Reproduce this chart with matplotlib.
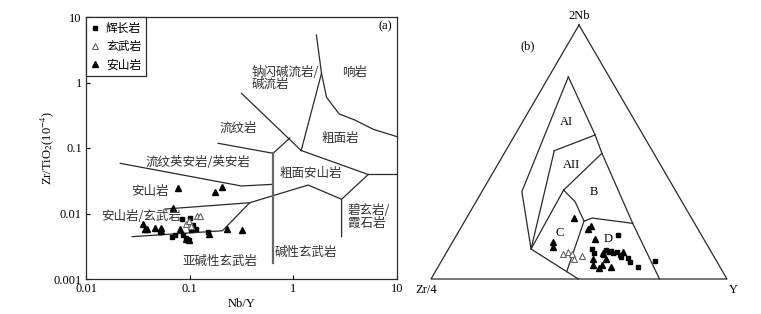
import numpy as np
import matplotlib
matplotlib.use("Agg")
import matplotlib.pyplot as plt
from matplotlib.lines import Line2D

plt.rcParams["font.family"] = ["Liberation Serif", "Noto Sans CJK SC"]
plt.rcParams["mathtext.fontset"] = "stix"
CJK = ["Noto Sans CJK SC", "DejaVu Sans"]
LC = "#2a2a2a"

# ---- (a) Nb/Y - Zr/TiO2 data ----
gabbro_nby = [0.068, 0.085, 0.1016, 0.1076, 0.1156, 0.0521, 0.0861, 0.0929,
              0.0985, 0.150, 0.1037, 0.0716]
gabbro_zrti = [0.0044, 0.0081, 0.0085, 0.0067, 0.0057, 0.0053, 0.0047, 0.0043,
               0.0040, 0.0053, 0.0056, 0.0047]
basalt_nby = [0.093, 0.098, 0.117, 0.126, 0.102]
basalt_zrti = [0.0069, 0.0077, 0.0090, 0.0090, 0.0064]
andesite_nby = [0.0774, 0.1746, 0.207, 0.069, 0.0356, 0.0367, 0.0388, 0.0459,
                0.0531, 0.0525, 0.080, 0.230, 0.321, 0.153, 0.0914, 0.0978]
andesite_zrti = [0.0249, 0.0215, 0.0251, 0.0121, 0.0068, 0.0058, 0.0057, 0.0061,
                 0.0061, 0.0054, 0.0058, 0.0059, 0.0056, 0.0049, 0.0041, 0.0039]

# field boundaries (Nb/Y, Zr/TiO2)
fields_a = [
    [(0.316, 0.684), (1.19, 0.0916)],
    [(1.67, 5.3), (1.87, 1.38), (1.19, 0.0916)],
    [(1.87, 1.38), (2.09, 0.594), (2.77, 0.33), (3.93, 0.267), (5.9, 0.193), (10, 0.149)],
    [(0.925, 0.142), (0.638, 0.083)],
    [(0.188, 0.118), (0.638, 0.083)],
    [(1.19, 0.0916), (5.28, 0.0394), (10, 0.0394)],
    [(5.28, 0.0394), (2.92, 0.0165), (2.92, 0.00443)],
    [(0.0279, 0.00443), (0.207, 0.00545), (0.38, 0.0146), (1.39, 0.0272), (2.92, 0.0165)],
    [(0.058, 0.0117), (0.38, 0.0146)],
    [(0.0214, 0.0583), (0.316, 0.0263), (0.638, 0.0279)],
]
divider_a = [(0.638, 0.083), (0.638, 0.00174)]

labels_a = [
    ("钠闪碱流岩/", 0.397, 1.445, "left"),
    ("碱流岩", 0.397, 0.949, "left"),
    ("响岩", 3.93, 1.40, "center"),
    ("流纹岩", 0.291, 0.202, "center"),
    ("粗面岩", 2.81, 0.142, "center"),
    ("流纹英安岩/英安岩", 0.119, 0.061, "center"),
    ("粗面安山岩", 1.476, 0.0415, "center"),
    ("安山岩", 0.0411, 0.0213, "center"),
    ("安山岩/玄武岩", 0.0337, 0.00885, "center"),
    ("碧玄岩/", 3.37, 0.0113, "left"),
    ("霞石岩", 3.37, 0.00716, "left"),
    ("碱性玄武岩", 1.32, 0.00258, "center"),
    ("亚碱性玄武岩", 0.195, 0.00188, "center"),
]
xticks_a = [0.01, 0.1, 1, 10]
xtick_labels_a = ["0.01", "0.1", "1", "10"]
yticks_a = [0.001, 0.01, 0.1, 1, 10]
ytick_labels_a = ["0.001", "0.01", "0.1", "1", "10"]

# ---- (b) 2Nb - Zr/4 - Y ternary data, percentages (2Nb, Y) ----
gabbro_nb2 = [17.3, 11.7, 10.4, 9.5, 11.4, 10.8, 11.1, 10.1, 10.8, 9.5, 8.8, 8.2, 6.6, 4.8, 7.1]
gabbro_y = [54.4, 48.5, 49.7, 53.4, 53.5, 54.6, 55.2, 56.6, 57.4, 59.0, 59.9, 62.3, 63.8, 67.5, 72.2]
basalt_nb2 = [9.8, 10.6, 9.8, 7.9, 8.9]
basalt_y = [39.6, 41.1, 42.8, 44.5, 46.5]
andesite_nb2 = [23.9, 19.7, 20.9, 15.6, 14.5, 12.5, 7.9, 5.5, 7.8, 5.7, 4.2, 4.8, 10.8, 10.1]
andesite_y = [36.2, 43.1, 43.7, 47.7, 33.9, 34.9, 50.9, 55.0, 55.3, 52.0, 54.5, 58.4, 59.4, 53.2]

fields_b = [
    [(100, 0), (0, 0), (0, 100), (100, 0)],
    [(79.6, 6.6), (56.7, 27.1), (49.5, 33.0), (21.9, 57.2), (0, 77.2)],
    [(79.6, 6.6), (34.4, 13.5), (11.8, 27.9), (2.9, 44.4), (0, 49.8)],
    [(50.5, 16.4), (56.7, 27.1)],
    [(50.5, 16.4), (11.8, 27.9)],
    [(49.5, 33.0), (35.0, 27.3)],
    [(35.0, 27.3), (11.8, 27.9)],
    [(35.0, 27.3), (30.4, 33.5), (22.8, 40.3)],
    [(22.8, 40.3), (24.0, 42.5), (21.9, 57.2)],
    [(22.8, 40.3), (2.9, 44.4)],
]
labels_b = [("AI", 0.458, 0.536), ("AII", 0.475, 0.389), ("B", 0.551, 0.298),
            ("C", 0.436, 0.156), ("D", 0.599, 0.135)]


def tern(nb2, y):
    a = np.asarray(nb2) / 100.0
    c = np.asarray(y) / 100.0
    return c + a / 2, a * np.sqrt(3) / 2


fig = plt.figure(figsize=(7.61, 3.14), dpi=100)

# ---------------- (a) ----------------
ax = fig.add_axes([86 / 761, 1 - 279 / 314, 311 / 761, 262 / 314])
ax.set_xscale("log")
ax.set_yscale("log")
ax.set_xlim(0.01, 10)
ax.set_ylim(0.001, 10)
for seg in fields_a:
    xs, ys = zip(*seg)
    ax.plot(xs, ys, color=LC, lw=0.9)
xs, ys = zip(*divider_a)
ax.plot(xs, ys, color="#666666", lw=1.6)
for txt, x, y, ha in labels_a:
    ax.text(x, y, txt, ha=ha, va="center", fontsize=9, family=CJK, color="#333333")
ax.text(0.961, 0.966, "(a)", transform=ax.transAxes, ha="center", va="center", fontsize=9)

ax.plot(gabbro_nby, gabbro_zrti, "s", color="k", ms=3, ls="none")
ax.plot(basalt_nby, basalt_zrti, "^", mfc="white", mec="#666666", mew=0.8, ms=5, ls="none")
ax.plot(andesite_nby, andesite_zrti, "^", color="k", ms=4.5, ls="none")

ax.set_xticks(xticks_a)
ax.set_xticklabels(xtick_labels_a)
ax.set_yticks(yticks_a)
ax.set_yticklabels(ytick_labels_a)
ax.minorticks_off()
ax.tick_params(direction="in", length=3, labelsize=9, width=0.8, pad=3)
for s in ax.spines.values():
    s.set_color(LC)
    s.set_linewidth(0.9)
ax.set_xlabel("Nb/Y", fontsize=9, labelpad=2)
ax.set_ylabel(r"Zr/TiO$_2$(10$^{-4}$)", fontsize=9, labelpad=-2)

handles = [
    Line2D([], [], marker="s", color="k", ms=3, ls="none"),
    Line2D([], [], marker="^", mfc="white", mec="#666666", mew=0.8, ms=4.5, ls="none"),
    Line2D([], [], marker="^", color="k", ms=4.5, ls="none"),
]
leg = ax.legend(handles, ["辉长岩", "玄武岩", "安山岩"], loc="upper left",
                bbox_to_anchor=(0, 1), borderaxespad=0, fancybox=False,
                edgecolor=LC, framealpha=1, handlelength=0.8, handletextpad=0.5,
                labelspacing=0.45, borderpad=0.4, prop={"family": CJK, "size": 8.5})
leg.get_frame().set_linewidth(0.9)

# ---------------- (b) ----------------
bx = fig.add_axes([431 / 761, 1 - 279 / 314, 296 / 761, 254 / 314])
bx.set_xlim(0, 1)
bx.set_ylim(0, np.sqrt(3) / 2)
bx.axis("off")
for seg in fields_b:
    nb2, y = zip(*seg)
    px, py = tern(nb2, y)
    bx.plot(px, py, color=LC, lw=0.9, clip_on=False)
for txt, x, y in labels_b:
    bx.text(x, y, txt, ha="center", va="center", fontsize=9)

px, py = tern(gabbro_nb2, gabbro_y)
bx.plot(px, py, "s", color="k", ms=3, ls="none")
px, py = tern(basalt_nb2, basalt_y)
bx.plot(px, py, "^", mfc="white", mec="#666666", mew=0.8, ms=5, ls="none")
px, py = tern(andesite_nb2, andesite_y)
bx.plot(px, py, "^", color="k", ms=4.5, ls="none")

bx.text(0.5, 0.897, "2Nb", ha="center", va="center", fontsize=9)
bx.text(0.327, 0.792, "(b)", ha="center", va="center", fontsize=9)
bx.text(-0.015, -0.0375, "Zr/4", ha="center", va="center", fontsize=9)
bx.text(1.02, -0.0375, "Y", ha="center", va="center", fontsize=9)

fig.savefig("out.png", dpi=100)
